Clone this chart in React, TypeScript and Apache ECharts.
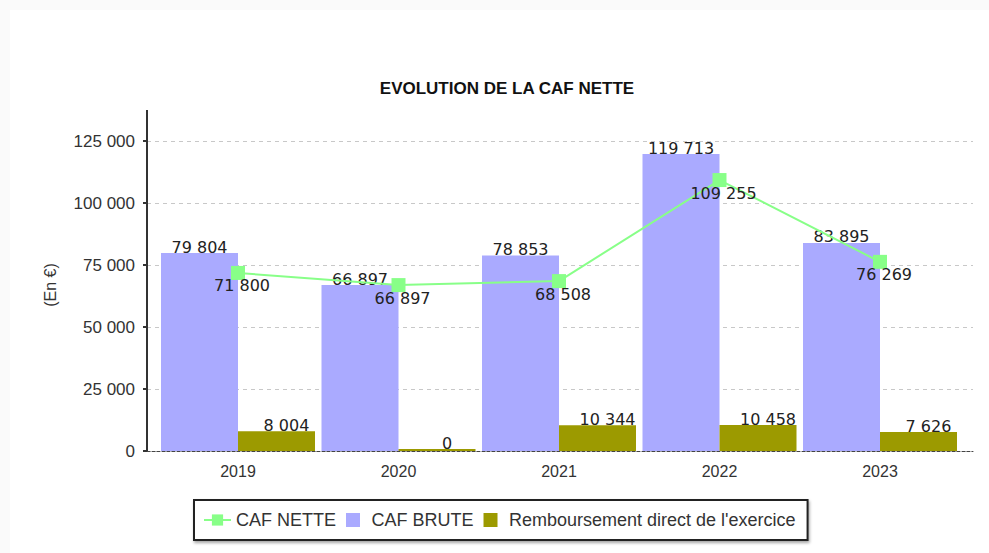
import React, { useEffect, useRef } from "react";
import * as echarts from "echarts";

const years = ["2019", "2020", "2021", "2022", "2023"];
const cafNette = [71800, 66897, 68508, 109255, 76269];
const cafBrute = [79804, 66897, 78853, 119713, 83895];
const remboursement = [8004, 0, 10344, 10458, 7626];
const yMin = 0;
const yMax = 125000;
const yInterval = 25000;

const fmt = (v: number) =>
  String(Math.round(v)).replace(/\B(?=(\d{3})+(?!\d))/g, " ");

const SQUARE = "path://M0,0H10V10H0Z";

export default function App() {
  const ref = useRef<HTMLDivElement>(null);
  useEffect(() => {
    if (!ref.current) return;
    const chart = echarts.init(ref.current, null, { renderer: "svg" });
    const dataLabel = {
      show: true,
      fontFamily: "DejaVu Sans",
      fontSize: 16,
      color: "#222",
      formatter: (p: any) => fmt(p.value),
    };
    chart.setOption({
      animation: false,
      backgroundColor: "#ffffff",
      title: {
        text: "EVOLUTION DE LA CAF NETTE",
        left: 492,
        top: 65,
        textAlign: "center",
        textStyle: {
          fontFamily: "Liberation Sans",
          fontSize: 17,
          fontWeight: "bold",
          color: "#111",
        },
      },
      graphic: [
        {
          type: "line",
          shape: { x1: 137, y1: 100, x2: 137, y2: 131 },
          style: { stroke: "#333", lineWidth: 2 },
        },
        {
          type: "text",
          x: 40,
          y: 275,
          rotation: Math.PI / 2,
          style: {
            text: "(En €)",
            fontFamily: "Liberation Sans",
            fontSize: 16,
            fill: "#333",
            textAlign: "center",
            textVerticalAlign: "middle",
          },
        },
      ],
      legend: {
        left: 184,
        top: 490,
        orient: "horizontal",
        padding: [11, 12, 11, 9],
        itemGap: 10,
        itemWidth: 27,
        itemHeight: 14,
        borderColor: "#222",
        borderWidth: 2,
        backgroundColor: "#fff",
        shadowColor: "rgba(0,0,0,0.35)",
        shadowBlur: 3,
        shadowOffsetX: 1,
        shadowOffsetY: 2,
        textStyle: { fontFamily: "Liberation Sans", fontSize: 18, color: "#333" },
        data: [
          { name: "CAF NETTE" },
          { name: "CAF BRUTE", icon: SQUARE },
          { name: "Remboursement direct de l'exercice", icon: SQUARE },
        ],
      },
      grid: [
        { left: 137, right: 16, top: 131, bottom: 102 },
        { left: 147.75, width: 802.5, top: 131, bottom: 102 },
      ],
      xAxis: [
        {
          gridIndex: 0,
          type: "category",
          data: years,
          axisLine: { show: true, lineStyle: { color: "#444", type: [3, 2], width: 1 } },
          axisTick: { show: false },
          axisLabel: { show: false },
          splitLine: { show: false },
        },
        {
          gridIndex: 1,
          type: "category",
          data: years,
          axisLine: { show: false },
          axisTick: { show: false },
          axisLabel: {
            fontFamily: "Liberation Sans",
            fontSize: 16,
            color: "#333",
            margin: 12,
          },
        },
      ],
      yAxis: [
        {
          gridIndex: 0,
          type: "value",
          min: yMin,
          max: yMax,
          interval: yInterval,
          axisLine: { show: true, lineStyle: { color: "#333", width: 2 } },
          axisTick: { show: true, length: 4, lineStyle: { color: "#333", width: 2 } },
          axisLabel: {
            formatter: (v: number) => fmt(v),
            fontFamily: "Liberation Sans",
            fontSize: 17,
            color: "#333",
            margin: 12,
          },
          splitLine: { show: true, lineStyle: { color: "#c8c8c8", type: [4, 4] } },
        },
        {
          gridIndex: 1,
          type: "value",
          min: yMin,
          max: yMax,
          interval: yInterval,
          show: false,
          splitLine: { show: false },
        },
      ],
      series: [
        {
          name: "CAF NETTE",
          type: "line",
          xAxisIndex: 1,
          yAxisIndex: 1,
          data: cafNette,
          symbol: "rect",
          symbolSize: 14,
          z: 5,
          itemStyle: { color: "#88ff88" },
          lineStyle: { color: "#88ff88", width: 2 },
          label: { ...dataLabel, position: "bottom", distance: 0, offset: [4, -2] },
        },
        {
          name: "CAF BRUTE",
          type: "bar",
          xAxisIndex: 1,
          yAxisIndex: 1,
          data: cafBrute,
          barWidth: 77,
          barGap: "0%",
          itemStyle: { color: "#aaaaff" },
          label: { ...dataLabel, position: "top", distance: -2 },
        },
        {
          name: "Remboursement direct de l'exercice",
          type: "bar",
          xAxisIndex: 1,
          yAxisIndex: 1,
          data: remboursement,
          barWidth: 77,
          barGap: "0%",
          barMinHeight: 2,
          itemStyle: { color: "#9c9a00" },
          label: { ...dataLabel, position: "top", distance: -2, offset: [10, 0] },
        },
      ],
    });
    return () => chart.dispose();
  }, []);

  return (
    <div
      style={{
        position: "fixed",
        left: 0,
        top: 0,
        width: 989,
        height: 553,
        background: "#fafafa",
      }}
    >
      <div
        ref={ref}
        style={{
          position: "absolute",
          left: 10,
          top: 10,
          width: 979,
          height: 543,
          background: "#fff",
        }}
      />
    </div>
  );
}
